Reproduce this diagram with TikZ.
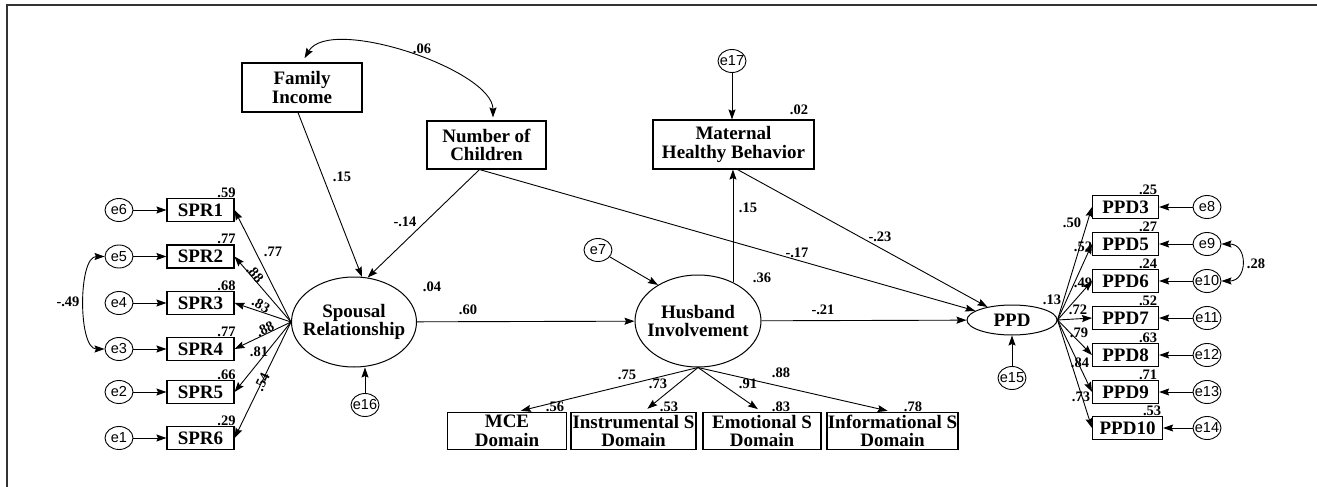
\documentclass[tikz,border=0pt]{standalone}
\usepackage{fontspec}
\setmainfont{Liberation Serif}
\setsansfont{Liberation Sans}
\usetikzlibrary{arrows.meta,shapes.geometric,calc}
\begin{document}
\begin{tikzpicture}[x=1pt,y=-1pt,
  every node/.style={inner sep=0pt},
  box/.style={draw, line width=1.1pt, align=center, font=\fontsize{19}{18.5}\selectfont\bfseries},
  lattext/.style={align=center, font=\fontsize{19}{18.5}\selectfont\bfseries},
  lat/.style={draw, ellipse, line width=1pt, label={[lattext]center:{#1}}},
  err/.style={draw, ellipse, line width=0.9pt, minimum width=28pt, minimum height=23pt,
    label={[font=\fontsize{14.5}{15}\sffamily]center:#1}},
  coef/.style={font=\fontsize{14.5}{15}\selectfont\bfseries},
  arr/.style={line width=0.9pt, -{Stealth[length=10pt,width=7pt,inset=1.5pt]}},
  darr/.style={line width=0.9pt, {Stealth[length=10pt,width=7pt,inset=1.5pt]}-{Stealth[length=10pt,width=7pt,inset=1.5pt]}},
]
\useasboundingbox (0,0) rectangle (1317,487);
\fill[white] (0,0) rectangle (1317,487);
\draw[line width=2pt, black!80] (6.5,487) -- (6.5,5.5) -- (1317,5.5);

% exogenous / mediator boxes
\node[box, minimum width=120pt, minimum height=49pt] (fi) at (302,87.5) {Family\\Income};
\node[box, minimum width=119pt, minimum height=48pt] (nc) at (486.5,145) {Number of\\Children};
\node[box, minimum width=161pt, minimum height=49pt] (mhb) at (733.5,144.5) {Maternal\\Healthy Behavior};
\node[err=e17] (e17) at (732,61) {};

% latent variables
\node[lat={Spousal\\Relationship}, minimum width=125pt, minimum height=90pt] (sr) at (354,322) {};
\node[lat={Husband\\Involvement}, minimum width=126pt, minimum height=92pt] (hi) at (698,321) {};
\node[lat={PPD}, minimum width=90pt, minimum height=30pt] (ppd) at (1012,320) {};
\node[err=e7] (e7) at (598,250) {};
\node[err=e16] (e16) at (365,405) {};
\node[err=e15] (e15) at (1012,378) {};

% SPR indicators
\foreach \i/\e/\y/\r in {1/6/210/.59, 2/5/256.5/.77, 3/4/303/.68, 4/3/349/.77, 5/2/392/.66, 6/1/438/.29} {
  \node[box, minimum width=67pt, minimum height=23pt] (spr\i) at (200.5,\y) {SPR\i};
  \node[err=e\e] (e\e) at (119,\y) {};
  \node[coef, anchor=south] (rs\i) at ($(spr\i.north east)+(-8,-0.5)$) {\r};
  \draw[arr] (e\e) -- (spr\i);
  \draw[arr] (sr.west) -- (spr\i.east);
}

% PPD indicators
\foreach \i/\e/\y/\r/\w in {3/8/207/.25/66, 5/9/244/.27/66, 6/10/281/.24/66, 7/11/318/.52/66, 8/12/355/.63/66, 9/13/392/.71/66, 10/14/428/.53/70} {
  \node[box, minimum width=\w pt, minimum height=23pt, anchor=west] (ppd\i) at (1092,\y) {PPD\i};
  \node[err=e\e] (e\e) at (1207,\y) {};
  \node[coef, anchor=south] (rp\i) at ($(ppd\i.north east)+(-11,-0.5)$) {\r};
  \draw[arr] (e\e) -- (ppd\i);
  \draw[arr] (ppd.east) -- (ppd\i.west);
}

% HI indicators
\node[box, minimum width=119.5pt, minimum height=37pt] (mce) at (507,431) {MCE\\Domain};
\node[box, minimum width=125pt, minimum height=37pt] (ins) at (633.5,431) {Instrumental S\\Domain};
\node[box, minimum width=118pt, minimum height=37pt] (emo) at (762,431) {Emotional S\\Domain};
\node[box, minimum width=131pt, minimum height=37pt] (inf) at (892.5,431) {Informational S\\Domain};
\draw[arr, shorten >=5pt] (hi.south) -- ([xshift=9pt]mce.north);
\draw[arr, shorten >=5pt] (hi.south) -- ([xshift=10pt]ins.north);
\draw[arr, shorten >=5pt] (hi.south) -- (emo.north);
\draw[arr, shorten >=5pt] (hi.south) -- (inf.north);

% structural paths
\draw[darr, shorten <=3pt, shorten >=5pt] ([xshift=6.5pt]nc.north) .. controls (493,70) and (330,15) .. (fi.north);
\draw[arr] ([xshift=-4pt]fi.south) -- (sr.80);
\draw[arr] ([xshift=-7pt]nc.south) -- (sr.73);
\draw[arr] ([xshift=-7pt]nc.south) -- (ppd.166);
\draw[arr] ([xshift=4pt]mhb.south) -- (ppd.152);
\draw[arr] (hi.48) -- (hi.48 |- mhb.south);
\draw[arr] (e17) -- (e17 |- mhb.north);
\draw[arr] (sr) -- (hi);
\draw[arr] (hi) -- (ppd);
\draw[arr] (e7) -- (hi.138);
\draw[arr] (e16) -- (e16 |- sr.south);
\draw[arr] (e15) -- (ppd);
\draw[darr] (e5.west) .. controls (78,256.5) and (78,349) .. (e3.west);
\draw[darr] (e9.east) .. controls (1248,244) and (1248,281) .. (e10.east);

% coefficients
\node[coef] (c06) at (422,49) {.06};
\node[coef] (c15a) at (342,177) {.15};
\node[coef] (c14) at (405,222) {-.14};
\node[coef] (c04) at (432,287) {.04};
\node[coef] (c60) at (468,310) {.60};
\node[coef] (c21) at (823,310) {-.21};
\node[coef] (c36) at (762,278) {.36};
\node[coef] (c15b) at (748,208) {.15};
\node[coef] (c17) at (797,253) {-.17};
\node[coef] (c23) at (880,237) {-.23};
\node[coef] (c02) at (799,110) {.02};
\node[coef] (c13) at (1052,300) {.13};
\node[coef] (c28) at (1256,264) {.28};
\node[coef] (c49) at (68,302) {-.49};
% SPR loadings
\node[coef] (l1) at (273,252) {.77};
\node[coef, rotate=-50] (l2) at (255,274) {.88};
\node[coef, rotate=-28] (l3) at (261,305) {.83};
\node[coef, rotate=25] (l4) at (265,329) {.88};
\node[coef] (l5) at (259,352) {.81};
\node[coef, rotate=65] (l6) at (262,382) {.54};
% PPD loadings
\node[coef] (p3) at (1072,223) {.50};
\node[coef] (p5) at (1083,247) {.52};
\node[coef] (p6) at (1083,283) {.49};
\node[coef] (p7) at (1078,310) {.72};
\node[coef] (p8) at (1079,333) {.79};
\node[coef] (p9) at (1080,363) {.84};
\node[coef] (p10) at (1081,397) {.73};
% HI loadings and R2
\node[coef] (h1) at (627,375) {.75};
\node[coef] (h2) at (658,384) {.73};
\node[coef] (h3) at (748,384) {.91};
\node[coef] (h4) at (781,373) {.88};
\node[coef] (q1) at (555,407) {.56};
\node[coef] (q2) at (669,407) {.53};
\node[coef] (q3) at (781,407) {.83};
\node[coef] (q4) at (913,407) {.78};
\end{tikzpicture}
\end{document}
